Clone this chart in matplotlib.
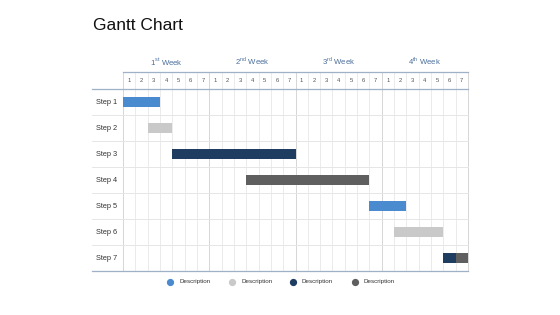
import matplotlib
matplotlib.use("Agg")
import matplotlib.pyplot as plt
from matplotlib.patches import Rectangle
from matplotlib.lines import Line2D

plt.rcParams["font.family"] = ["Liberation Sans", "DejaVu Sans"]
plt.rcParams["mathtext.fontset"] = "custom"
plt.rcParams["mathtext.rm"] = "Liberation Sans"

steps = ["Step 1", "Step 2", "Step 3", "Step 4", "Step 5", "Step 6", "Step 7"]
# each task: step index, start day, duration, color key
task_steps = [0, 1, 2, 3, 4, 5, 6, 6]
task_starts = [0, 2, 4, 10, 20, 22, 26, 27]
task_durations = [3, 2, 10, 10, 3, 4, 1, 1]
task_colors = ["blue", "lgray", "navy", "dgray", "blue", "lgray", "navy", "dgray"]
weeks = ["1", "2", "3", "4"]
week_suffix = ["st", "nd", "rd", "th"]
days_per_week = 7
legend_labels = ["Description", "Description", "Description", "Description"]
legend_keys = ["blue", "lgray", "navy", "dgray"]

palette = {"blue": "#4a8bd0", "lgray": "#c9c9c9", "navy": "#1f3d61", "dgray": "#5f5f5f"}

W, H = 560, 315
fig = plt.figure(figsize=(5.6, 3.15), dpi=100)
x0, x1 = 123, 468
y0, y1 = 89, 271
ax = fig.add_axes([x0 / W, 1 - y1 / H, (x1 - x0) / W, (y1 - y0) / H])
ndays = days_per_week * len(weeks)
ax.set_xlim(0, ndays)
ax.set_ylim(len(steps), 0)
ax.axis("off")

rowpx = (y1 - y0) / len(steps)
hdr = 17 / rowpx  # header row height in row units
left_ext = -(x0 - 92) / ((x1 - x0) / ndays)

# vertical grid lines
for d in range(ndays + 1):
    week_edge = d % days_per_week == 0
    col = "#d6d6d6" if week_edge else "#ebebeb"
    ax.add_line(Line2D([d, d], [len(steps), -hdr], color=col, lw=0.7, clip_on=False, zorder=0))

# horizontal row lines
for r in range(1, len(steps)):
    ax.add_line(Line2D([left_ext, ndays], [r, r], color="#e6e6e6", lw=0.7, clip_on=False, zorder=0))
ax.add_line(Line2D([left_ext, ndays], [0, 0], color="#9fb1c6", lw=0.9, clip_on=False, zorder=1))
ax.add_line(Line2D([0, ndays], [-hdr, -hdr], color="#9fb1c6", lw=0.9, clip_on=False, zorder=1))
ax.add_line(Line2D([left_ext, ndays], [len(steps), len(steps)], color="#9fb1c6", lw=0.9, clip_on=False, zorder=1))

# day numbers
for d in range(ndays):
    ax.text(d + 0.5, -hdr / 2, str(d % days_per_week + 1), ha="center", va="center",
            fontsize=4.2, color="#555555")

# week labels
for i, (w, s) in enumerate(zip(weeks, week_suffix)):
    ax.text(days_per_week * i + days_per_week / 2, -hdr - 0.42,
            w + r"$^{\mathrm{" + s + r"}}$" + " Week", ha="center", va="center",
            fontsize=5.6, color="#4a6e9c")

# step labels
for r, s in enumerate(steps):
    ax.text(left_ext + 0.3, r + 0.5, s, ha="left", va="center", fontsize=5.3, color="#333333")

# bars
bh = 0.36
for st, s0, du, ck in zip(task_steps, task_starts, task_durations, task_colors):
    ax.add_patch(Rectangle((s0, st + 0.5 - bh / 2), du, bh, color=palette[ck], lw=0, zorder=3))

# title
fig.text(93 / W, 1 - 25 / H, "Gantt Chart", ha="left", va="center", fontsize=12.5, color="#111111")

# legend
lx = [170, 232, 293, 355]
ly = 1 - 282 / H
for x, lab, ck in zip(lx, legend_labels, legend_keys):
    fig.add_artist(Line2D([x / W], [ly], marker="o", markersize=4.2, color=palette[ck], lw=0))
    fig.text((x + 9) / W, ly, lab, ha="left", va="center", fontsize=4.5, color="#333333")

fig.savefig("out.png", dpi=100)
